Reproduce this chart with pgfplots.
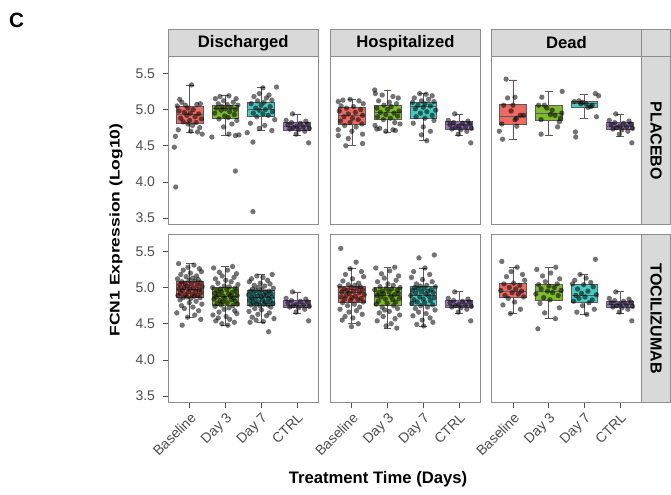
\documentclass[border=0pt]{standalone}
\usepackage{fontspec}
\setmainfont{Liberation Sans}
\usepackage{pgfplots}
\usepackage{pgfplotstable}
\pgfplotsset{compat=1.18}
\usepgfplotslibrary{statistics}

\definecolor{cred}{HTML}{EE6A63}
\definecolor{cgreen}{HTML}{7DBB2F}
\definecolor{ccyan}{HTML}{48CBC3}
\definecolor{cpurple}{HTML}{A077C6}
\definecolor{pgray}{HTML}{8C8C8C}
\definecolor{stripgray}{HTML}{D9D9D9}
\definecolor{boxline}{HTML}{5A5A5A}
\definecolor{labgray}{HTML}{4D4D4D}

% controls (same in every panel)
\pgfplotstableread{
x y
3.88 4.94
3.70 4.85
4.25 4.84
3.85 4.82
4.10 4.81
4.30 4.80
3.75 4.79
4.00 4.77
4.18 4.76
3.90 4.75
4.35 4.74
3.80 4.73
4.05 4.72
4.22 4.70
3.98 4.66
4.33 4.54
}\ctrl

% placebo, discharged
\pgfplotstableread{
x y
0.57 4.48
0.61 3.93
1.05 5.34
0.72 5.14
0.78 5.10
0.65 5.05
0.88 5.06
1.20 5.07
1.30 5.08
0.95 5.02
1.10 5.00
0.70 4.98
0.85 4.96
1.02 4.95
1.25 4.94
0.92 4.92
1.15 4.90
0.75 4.88
1.33 4.87
1.00 4.85
0.82 4.83
1.18 4.82
0.95 4.80
1.08 4.78
1.28 4.75
0.68 4.72
1.03 4.70
1.22 4.69
0.60 4.63
1.35 4.66
1.72 5.15
1.85 5.18
2.10 5.19
2.30 5.15
1.95 5.12
2.22 5.10
1.80 5.08
2.05 5.07
2.35 5.06
1.90 5.04
2.15 5.03
1.75 5.02
2.00 5.01
2.28 5.00
1.88 4.99
2.12 4.97
1.70 4.95
2.25 4.93
1.98 4.91
2.08 4.89
1.82 4.87
2.32 4.85
1.62 4.62
2.18 4.80
1.95 4.76
2.28 4.64
2.10 4.66
2.28 4.15
2.38 4.65
3.43 5.31
3.05 5.30
2.95 5.22
3.22 5.20
2.80 5.18
3.15 5.16
2.90 5.12
3.30 5.13
3.08 5.10
2.72 5.08
3.00 5.06
3.25 5.04
2.85 5.02
3.12 5.00
2.95 4.99
3.32 4.97
2.78 4.95
3.05 4.94
3.20 4.92
2.88 4.90
3.38 4.86
2.70 4.81
3.10 4.78
2.95 4.74
3.30 4.71
2.77 4.55
2.77 3.59
2.61 4.68
}\pdis

% placebo, hospitalized
\pgfplotstableread{
x y
0.62 5.11
0.75 5.13
0.95 5.14
1.20 5.12
1.32 5.08
0.70 5.05
1.05 5.04
0.85 5.02
1.25 5.00
0.65 4.98
1.10 4.96
0.90 4.94
1.30 4.92
0.78 4.90
1.02 4.88
1.18 4.86
0.68 4.84
0.95 4.82
1.28 4.80
0.80 4.78
1.12 4.76
0.62 4.72
1.00 4.70
1.30 4.66
0.62 4.64
0.90 4.60
0.83 4.50
1.30 4.53
1.64 5.27
1.66 5.22
1.85 5.20
2.15 5.18
2.30 5.16
1.75 5.12
2.05 5.10
2.25 5.08
1.90 5.06
2.10 5.04
1.70 5.02
2.00 5.00
2.32 4.98
1.80 4.96
2.18 4.95
1.95 4.93
2.28 4.91
1.72 4.90
2.08 4.88
1.88 4.86
2.20 4.82
1.65 4.78
2.35 4.80
1.78 4.74
2.15 4.72
1.95 4.70
1.70 4.73
2.22 4.71
2.90 5.22
3.08 5.21
3.25 5.19
2.75 5.16
3.15 5.14
2.95 5.12
3.30 5.11
2.70 5.10
3.05 5.08
2.85 5.06
3.20 5.05
3.00 5.03
2.78 5.01
3.35 4.99
3.10 4.97
2.92 4.95
3.25 4.92
2.80 4.90
3.05 4.88
3.30 4.85
2.72 4.81
3.00 4.76
3.20 4.70
2.95 4.65
3.10 4.57
}\phos

% placebo, dead
\pgfplotstableread{
x y
0.81 5.42
0.85 5.16
1.06 5.17
0.74 5.06
1.00 5.06
1.21 4.92
1.30 4.92
1.06 4.86
1.10 4.88
0.69 4.80
1.11 4.77
0.62 4.70
0.71 4.59
0.95 4.98
1.81 5.17
2.38 5.25
1.72 5.06
1.88 5.06
2.05 4.93
2.37 4.95
2.33 4.88
2.30 4.83
2.25 4.76
1.79 4.86
1.79 4.66
2.10 4.99
1.95 5.02
2.18 4.92
2.75 4.69
2.76 4.62
3.31 5.22
3.40 5.19
2.72 5.11
2.85 5.12
2.95 5.10
3.05 5.08
3.22 5.06
3.18 5.04
2.90 5.08
3.34 4.90
3.10 5.03
}\pdead

% tocilizumab, discharged: jitter o/p, baseline, day 3, day 7
\pgfplotstableread{
o p b d3 d7
-0.31 0.20 5.33 5.29 5.18
0.12 -0.33 5.31 5.27 5.16
-0.05 0.06 5.28 5.24 5.14
0.27 -0.17 5.26 5.21 5.12
-0.18 0.31 5.24 5.19 5.10
0.33 -0.09 5.22 5.16 5.08
0.02 0.24 5.20 5.14 5.06
-0.25 -0.28 5.18 5.12 5.05
0.19 0.01 5.16 5.10 5.03
-0.10 0.16 5.15 5.08 5.02
0.08 -0.21 5.13 5.06 5.00
-0.34 0.35 5.12 5.04 4.99
0.24 -0.03 5.11 5.02 4.98
-0.02 0.11 5.10 5.01 4.97
0.15 -0.36 5.09 5.00 4.96
-0.22 0.27 5.08 4.99 4.95
0.30 -0.14 5.07 4.98 4.95
-0.13 0.04 5.06 4.97 4.94
0.05 -0.24 5.05 4.96 4.93
-0.28 0.30 5.04 4.95 4.92
0.21 -0.11 5.03 4.94 4.91
-0.07 0.19 5.02 4.93 4.90
0.35 -0.30 5.01 4.92 4.90
-0.16 0.09 5.00 4.91 4.89
0.10 -0.19 4.99 4.90 4.88
-0.30 0.33 4.98 4.89 4.87
0.00 -0.06 4.98 4.88 4.87
0.26 0.14 4.97 4.88 4.86
-0.20 -0.26 4.96 4.87 4.85
0.17 0.23 4.95 4.86 4.84
-0.04 -0.01 4.94 4.85 4.83
0.32 -0.32 4.93 4.84 4.82
-0.26 0.17 4.92 4.83 4.81
0.07 -0.15 4.91 4.82 4.80
-0.12 0.28 4.90 4.81 4.80
0.22 -0.08 4.89 4.80 4.79
-0.33 0.05 4.89 4.79 4.78
0.13 -0.23 4.88 4.78 4.77
-0.08 0.34 4.87 4.77 4.77
0.29 -0.12 4.86 4.76 4.76
-0.19 0.21 4.86 4.75 4.76
0.03 -0.29 4.85 4.74 4.75
-0.27 0.10 4.83 4.72 4.73
0.18 -0.04 4.81 4.70 4.71
-0.01 0.26 4.79 4.68 4.69
0.34 -0.18 4.77 4.66 4.67
-0.23 0.32 4.75 4.64 4.65
0.09 -0.35 4.73 4.62 4.63
-0.15 0.02 4.71 4.60 4.61
0.25 -0.20 4.68 4.58 4.59
-0.36 0.12 4.65 4.56 4.57
0.14 -0.27 4.62 4.54 4.55
-0.06 0.25 4.59 4.52 4.53
0.31 -0.10 4.56 4.50 4.52
-0.21 0.07 4.48 4.48 4.39
}\tdis

\pgfplotstableread{
o p b d3 d7
-0.31 0.20 5.54 5.28 5.45
0.12 -0.33 5.35 5.27 5.41
-0.05 0.06 5.26 5.23 5.27
0.27 -0.17 5.22 5.19 5.22
-0.18 0.31 5.18 5.16 5.18
0.33 -0.09 5.15 5.13 5.14
0.02 0.24 5.12 5.10 5.11
-0.25 -0.28 5.09 5.08 5.08
0.19 0.01 5.06 5.05 5.05
-0.10 0.16 5.04 5.03 5.03
0.08 -0.21 5.03 5.01 5.02
-0.34 0.35 5.02 5.00 5.01
0.24 -0.03 5.01 4.99 5.00
-0.02 0.11 5.00 4.98 4.99
0.15 -0.36 4.99 4.97 4.98
-0.22 0.27 4.98 4.96 4.97
0.30 -0.14 4.97 4.95 4.96
-0.13 0.04 4.96 4.94 4.95
0.05 -0.24 4.95 4.93 4.94
-0.28 0.30 4.94 4.92 4.93
0.21 -0.11 4.93 4.91 4.92
-0.07 0.19 4.92 4.90 4.91
0.35 -0.30 4.90 4.89 4.89
-0.16 0.09 4.89 4.88 4.88
0.10 -0.19 4.88 4.87 4.87
-0.30 0.33 4.87 4.85 4.86
0.00 -0.06 4.86 4.84 4.84
0.26 0.14 4.85 4.83 4.83
-0.20 -0.26 4.84 4.81 4.82
0.17 0.23 4.83 4.80 4.80
-0.04 -0.01 4.82 4.78 4.79
0.32 -0.32 4.80 4.77 4.78
-0.26 0.17 4.79 4.75 4.76
0.07 -0.15 4.77 4.73 4.75
-0.12 0.28 4.75 4.71 4.73
0.22 -0.08 4.73 4.69 4.71
-0.33 0.05 4.70 4.67 4.69
0.13 -0.23 4.68 4.65 4.66
-0.08 0.34 4.66 4.62 4.64
0.29 -0.12 4.63 4.60 4.61
-0.19 0.21 4.60 4.57 4.58
0.03 -0.29 4.58 4.54 4.55
-0.27 0.10 4.55 4.50 4.52
0.18 -0.04 4.50 4.47 4.49
-0.01 0.26 4.46 4.44 4.47
}\thos

\pgfplotstableread{
o p b d3 d7
-0.31 0.20 5.36 5.28 5.39
0.12 -0.33 5.28 5.25 5.18
-0.05 0.06 5.22 5.20 5.13
0.27 -0.17 5.18 5.16 5.10
-0.18 0.31 5.15 5.12 5.07
0.33 -0.09 5.10 5.08 5.05
0.02 0.24 5.06 5.05 5.04
-0.25 -0.28 5.05 5.04 5.01
0.19 0.01 5.03 5.02 4.98
-0.10 0.16 5.00 5.00 4.95
0.08 -0.21 4.98 4.98 4.92
-0.34 0.35 4.96 4.96 4.90
0.24 -0.03 4.95 4.95 4.89
-0.02 0.11 4.93 4.93 4.87
0.15 -0.36 4.91 4.91 4.85
-0.22 0.27 4.89 4.89 4.83
0.30 -0.14 4.87 4.86 4.81
-0.13 0.04 4.85 4.83 4.79
0.05 -0.24 4.80 4.78 4.75
-0.28 0.30 4.76 4.72 4.70
0.21 -0.11 4.70 4.65 4.66
-0.07 0.19 4.64 4.57 4.63
0.35 -0.30 nan 4.43 nan
}\tdead

\pgfplotsset{
  panel/.style={scale only axis, width=112.5pt, height=126pt,
    anchor=south west, clip=false,
    xmin=0.4, xmax=4.6, ymin=3.41, ymax=5.73,
    axis line style={draw=pgray, line width=0.6pt},
    tick align=outside, tick pos=left, major tick length=3.75pt,
    tick style={draw=labgray, line width=0.5pt},
    xtick={1,2,3,4}, ytick={3.5,4,4.5,5,5.5},
    xticklabels={Baseline,Day 3,Day 7,CTRL},
    yticklabels={3.5,4.0,4.5,5.0,5.5},
    ticklabel style={font=\fontsize{10.5}{12}\selectfont, text=labgray},
    xticklabel style={rotate=45, anchor=north east, inner sep=2pt},
    yticklabel style={inner xsep=6pt},
    boxplot/draw direction=y},
  notop/.style={xtick=\empty},
  noleft/.style={ytick=\empty},
  pts/.style={only marks, mark=*, mark size=2pt, draw opacity=0,
    mark options={draw opacity=0, fill=black, fill opacity=0.55}},
}

\newcommand{\bx}[7]{\addplot[draw=boxline, line width=0.5pt, fill=#7,
  boxplot prepared={draw position=#1, lower whisker=#2, lower quartile=#3,
  median=#4, upper quartile=#5, upper whisker=#6, box extend=0.75,
  whisker extend=0.22}] coordinates {};}
\newcommand{\topstrip}[1]{%
  \draw[draw=pgray, fill=stripgray, line width=0.6pt] (rel axis cs:0,1) rectangle ([yshift=20.5pt]rel axis cs:1,1);
  \node[font=\bfseries\fontsize{12.5}{14}\selectfont] at ([yshift=10.25pt]rel axis cs:0.5,1) {#1};}
\newcommand{\rightstrip}[1]{%
  \draw[draw=pgray, fill=stripgray, line width=0.6pt] (rel axis cs:1,0) rectangle ([xshift=22pt]rel axis cs:1,1);
  \node[rotate=-90, font=\bfseries\fontsize{12}{14}\selectfont] at ([xshift=11pt]rel axis cs:1,0.5) {#1};}
\newcommand{\ctrlbox}[5]{\bx{4}{#1}{#2}{#3}{#4}{#5}{cpurple}
  \addplot[pts] table[x=x, y=y] {\ctrl};}

\begin{document}
\begin{tikzpicture}
\useasboundingbox (0,0) rectangle (503.25pt,370.5pt);

% PLACEBO row
\begin{axis}[panel, notop, at={(126.2pt,202pt)}]
  \topstrip{Discharged}
  \bx{1}{4.68}{4.81}{4.94}{5.04}{5.34}{cred}
  \bx{2}{4.65}{4.88}{5.01}{5.06}{5.19}{cgreen}
  \bx{3}{4.71}{4.91}{5.00}{5.10}{5.31}{ccyan}
  \addplot[pts] table[x=x, y=y] {\pdis};
  \ctrlbox{4.64}{4.71}{4.77}{4.82}{4.94}
\end{axis}
\begin{axis}[panel, notop, noleft, at={(247.8pt,202pt)}]
  \topstrip{Hospitalized}
  \bx{1}{4.50}{4.79}{4.92}{5.035}{5.14}{cred}
  \bx{2}{4.69}{4.86}{4.96}{5.06}{5.27}{cgreen}
  \bx{3}{4.57}{4.88}{5.05}{5.10}{5.22}{ccyan}
  \addplot[pts] table[x=x, y=y] {\phos};
  \ctrlbox{4.65}{4.72}{4.80}{4.84}{4.94}
\end{axis}
\begin{axis}[panel, notop, noleft, at={(368.6pt,202pt)}]
  \topstrip{Dead}
  \draw[draw=pgray, fill=stripgray, line width=0.6pt] (rel axis cs:1,1) rectangle ([xshift=22pt, yshift=20.5pt]rel axis cs:1,1);
  \rightstrip{PLACEBO}
  \bx{1}{4.59}{4.80}{4.90}{5.07}{5.41}{cred}
  \bx{2}{4.65}{4.85}{4.95}{5.06}{5.25}{cgreen}
  \bx{3}{4.88}{5.03}{5.08}{5.12}{5.21}{ccyan}
  \addplot[pts] table[x=x, y=y] {\pdead};
  \ctrlbox{4.63}{4.72}{4.77}{4.82}{4.94}
\end{axis}

% TOCILIZUMAB row
\begin{axis}[panel, at={(126.2pt,68.5pt)}]
  \bx{1}{4.59}{4.86}{4.98}{5.09}{5.33}{cred}
  \bx{2}{4.48}{4.75}{4.88}{5.00}{5.29}{cgreen}
  \bx{3}{4.52}{4.76}{4.87}{4.96}{5.18}{ccyan}
  \addplot[pts] table[x expr=\thisrow{o}+1, y=b] {\tdis};
  \addplot[pts] table[x expr=\thisrow{p}+2, y=d3] {\tdis};
  \addplot[pts] table[x expr=3-\thisrow{o}, y=d7] {\tdis};
  \ctrlbox{4.64}{4.72}{4.76}{4.82}{4.94}
\end{axis}
\begin{axis}[panel, noleft, at={(247.8pt,68.5pt)}]
  \bx{1}{4.50}{4.79}{4.94}{5.02}{5.26}{cred}
  \bx{2}{4.44}{4.75}{4.89}{5.00}{5.28}{cgreen}
  \bx{3}{4.47}{4.76}{4.89}{5.01}{5.27}{ccyan}
  \addplot[pts] table[x expr=\thisrow{o}+1, y=b] {\thos};
  \addplot[pts] table[x expr=\thisrow{p}+2, y=d3] {\thos};
  \addplot[pts] table[x expr=3-\thisrow{o}, y=d7] {\thos};
  \ctrlbox{4.64}{4.72}{4.76}{4.82}{4.95}
\end{axis}
\begin{axis}[panel, noleft, at={(368.6pt,68.5pt)}]
  \rightstrip{TOCILIZUMAB}
  \bx{1}{4.64}{4.87}{4.95}{5.06}{5.28}{cred}
  \bx{2}{4.57}{4.83}{4.95}{5.05}{5.28}{cgreen}
  \bx{3}{4.63}{4.80}{4.89}{5.04}{5.18}{ccyan}
  \addplot[pts] table[x expr=\thisrow{o}+1, y=b] {\tdead};
  \addplot[pts] table[x expr=\thisrow{p}+2, y=d3] {\tdead};
  \addplot[pts] table[x expr=3-\thisrow{o}, y=d7] {\tdead};
  \ctrlbox{4.64}{4.72}{4.77}{4.81}{4.95}
\end{axis}

\node[font=\bfseries\fontsize{15.5}{18}\selectfont] at (12.5pt,355pt) {C};
\node[rotate=90, font=\bfseries\fontsize{10.5}{12}\selectfont] at (87pt,198pt) {\scalebox{1.25}[1]{FCN1 Expression (Log10)}};
\node[font=\bfseries\fontsize{12.5}{14}\selectfont] at (283.5pt,11.25pt) {Treatment Time (Days)};
\end{tikzpicture}
\end{document}
